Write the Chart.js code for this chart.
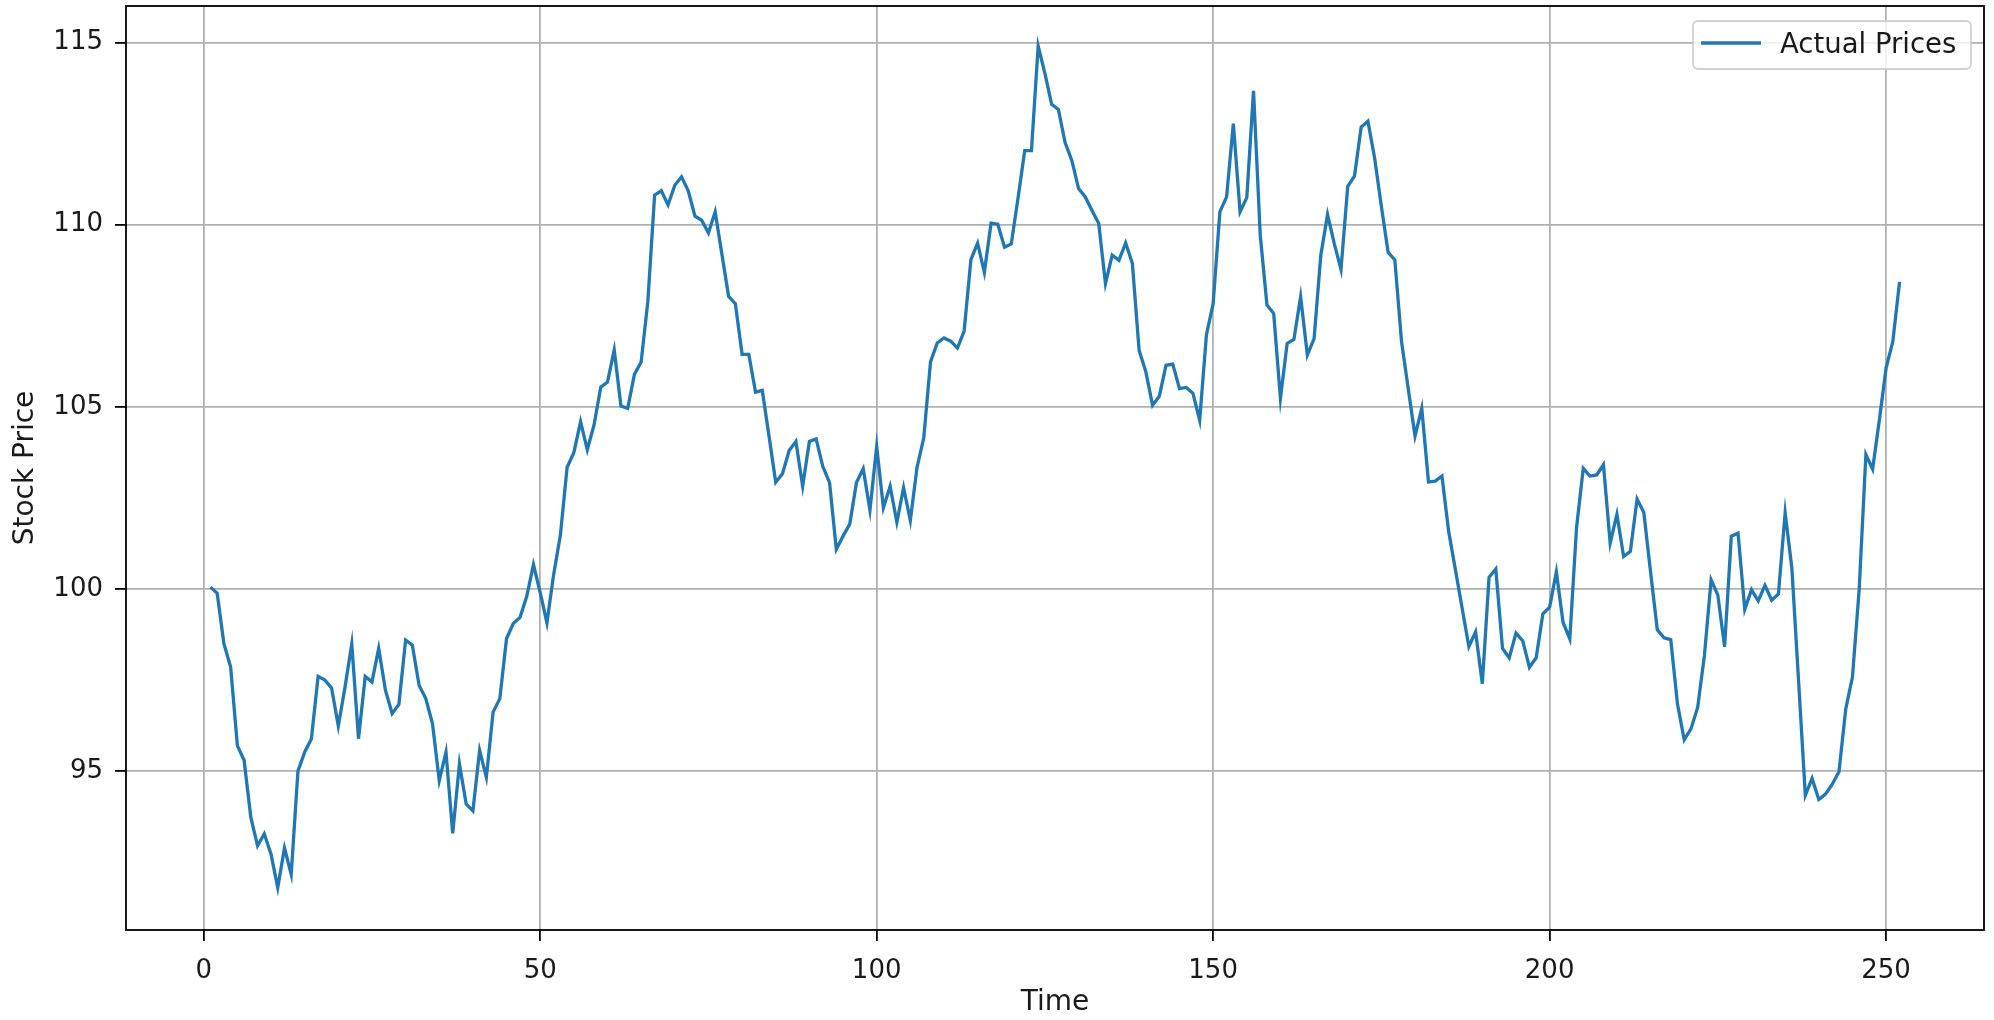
<!DOCTYPE html>
<html>
<head>
<meta charset="utf-8">
<script src="https://cdn.jsdelivr.net/npm/chart.js@4.4.0/dist/chart.umd.min.js"></script>
<style>
  html, body { margin: 0; padding: 0; background: #fff; }
  #wrap { width: 1994px; height: 1020px; }
</style>
</head>
<body>
<div id="wrap"><canvas id="chart" width="1994" height="1020"></canvas></div>
<script>
// prices, one per time step (1..252)
const actualPrices = [
  100.05, 99.88, 98.5, 97.86, 95.7, 95.3, 93.73, 92.95, 93.28, 92.72,
  91.8, 92.89, 92.17, 95.0, 95.52, 95.89, 97.6, 97.5, 97.28, 96.24,
  97.31, 98.49, 95.89, 97.6, 97.45, 98.37, 97.22, 96.58, 96.83, 98.6,
  98.46, 97.36, 96.99, 96.3, 94.74, 95.52, 93.29, 95.2, 94.1, 93.91,
  95.57, 94.83, 96.62, 96.99, 98.64, 99.05, 99.22, 99.8, 100.67, 99.9,
  99.07, 100.4, 101.48, 103.34, 103.74, 104.59, 103.82, 104.5, 105.54, 105.68,
  106.56, 105.02, 104.96, 105.89, 106.23, 107.9, 110.81, 110.93, 110.54, 111.08,
  111.31, 110.93, 110.23, 110.12, 109.77, 110.35, 109.19, 108.03, 107.83, 106.44,
  106.44, 105.4, 105.45, 104.2, 102.93, 103.16, 103.8, 104.05, 102.82, 104.05,
  104.12, 103.36, 102.92, 101.09, 101.45, 101.78, 102.92, 103.3, 102.16, 103.91,
  102.23, 102.82, 101.83, 102.78, 101.88, 103.34, 104.15, 106.23, 106.75, 106.89,
  106.8, 106.61, 107.08, 109.04, 109.49, 108.69, 110.04, 110.01, 109.38, 109.47,
  110.72, 112.03, 112.03, 114.9, 114.15, 113.3, 113.16, 112.25, 111.76, 110.99,
  110.76, 110.39, 110.03, 108.38, 109.16, 109.02, 109.5, 108.93, 106.55, 105.96,
  105.04, 105.29, 106.14, 106.17, 105.5, 105.53, 105.37, 104.63, 106.97, 107.83,
  110.35, 110.76, 112.77, 110.35, 110.74, 113.67, 109.71, 107.79, 107.56, 105.23,
  106.74, 106.85, 108.02, 106.42, 106.87, 109.16, 110.28, 109.48, 108.77, 111.05,
  111.33, 112.68, 112.84, 111.82, 110.5, 109.24, 109.03, 106.78, 105.49, 104.2,
  104.96, 102.94, 102.96, 103.1, 101.58, 100.53, 99.47, 98.42, 98.82, 97.4,
  100.32, 100.55, 98.37, 98.11, 98.79, 98.58, 97.85, 98.11, 99.32, 99.5,
  100.47, 99.08, 98.63, 101.68, 103.31, 103.1, 103.13, 103.41, 101.26, 102.05,
  100.89, 101.03, 102.47, 102.1, 100.47, 98.88, 98.66, 98.61, 96.84, 95.86,
  96.16, 96.75, 98.17, 100.25, 99.83, 98.41, 101.45, 101.53, 99.44, 99.98,
  99.67, 100.1, 99.69, 99.86, 102.09, 100.57, 97.46, 94.34, 94.8, 94.22,
  94.37, 94.64, 94.98, 96.7, 97.58, 99.98, 103.69, 103.29, 104.64, 106.06,
  106.79, 108.43
]
const timeSteps = actualPrices.map((p, i) => i + 1)
const xTickValues = [0, 50, 100, 150, 200, 250]
const yTickValues = [95, 100, 105, 110, 115]
const seriesName = 'Actual Prices'

const FONT = 'DejaVu Sans'
const textColor = '#1a1a1a'
const gridColor = '#b0b0b0'

// black frame round the plot area
const framePlugin = {
  id: 'frame',
  afterDraw(chart) {
    const a = chart.chartArea
    const ctx = chart.ctx
    ctx.save()
    ctx.strokeStyle = '#000'
    ctx.lineWidth = 1.8
    ctx.strokeRect(a.left, a.top, a.right - a.left, a.bottom - a.top)
    ctx.restore()
  }
}

// legend box in the upper right corner, matplotlib style
const legendPlugin = {
  id: 'boxLegend',
  afterDraw(chart) {
    const ctx = chart.ctx
    const ds = chart.data.datasets[0]
    const a = chart.chartArea
    const w = 278, h = 48
    const x = a.right - 13 - w, y = a.top + 15
    ctx.save()
    ctx.fillStyle = 'rgba(255,255,255,0.8)'
    ctx.strokeStyle = 'rgba(204,204,204,0.9)'
    ctx.lineWidth = 1.8
    ctx.beginPath()
    ctx.roundRect(x, y, w, h, 5)
    ctx.fill()
    ctx.stroke()
    ctx.strokeStyle = ds.borderColor
    ctx.lineWidth = ds.borderWidth
    ctx.beginPath()
    ctx.moveTo(x + 8, y + h / 2 - 2)
    ctx.lineTo(x + 68, y + h / 2 - 2)
    ctx.stroke()
    ctx.fillStyle = textColor
    ctx.font = '27.5px "' + FONT + '"'
    ctx.textBaseline = 'middle'
    ctx.fillText(ds.label, x + 87, y + h / 2 + 1)
    ctx.restore()
  }
}

const points = timeSteps.map((t, i) => ({ x: t, y: actualPrices[i] }))

const config = {
  type: 'line',
  data: {
    datasets: [{
      label: seriesName,
      data: points,
      borderColor: '#1f77b4',
      borderWidth: 3.3,
      pointRadius: 0,
      tension: 0,
      fill: false
    }]
  },
  options: {
    responsive: false,
    animation: false,
    devicePixelRatio: 1,
    layout: { padding: { left: 0, right: 10, top: 6, bottom: 0 } },
    plugins: {
      legend: { display: false },
      tooltip: { enabled: false }
    },
    scales: {
      x: {
        type: 'linear',
        min: -11.55,
        max: 264.55,
        afterBuildTicks: s => { s.ticks = xTickValues.map(v => ({ value: v })) },
        afterFit: s => { s.height = 90; s.paddingLeft = 0; s.paddingRight = 0 },
        border: { display: false },
        grid: { color: gridColor, lineWidth: 1.8, tickLength: 11, tickColor: '#000', tickWidth: 1.8 },
        ticks: { color: textColor, font: { family: FONT, size: 26 }, padding: 15, maxRotation: 0, callback: v => v },
        title: { display: true, text: 'Time', color: textColor, font: { family: FONT, size: 28 }, padding: { top: 0, bottom: 0 } }
      },
      y: {
        min: 90.64,
        max: 116.0,
        afterBuildTicks: s => { s.ticks = yTickValues.map(v => ({ value: v })) },
        afterFit: s => { s.width = 126; s.paddingTop = 0; s.paddingBottom = 0 },
        border: { display: false },
        grid: { color: gridColor, lineWidth: 1.8, tickLength: 11, tickColor: '#000', tickWidth: 1.8 },
        ticks: { color: textColor, font: { family: FONT, size: 26 }, padding: 12, callback: v => v },
        title: { display: true, text: 'Stock Price', color: textColor, font: { family: FONT, size: 28 }, padding: { top: 8.5, bottom: 0 } }
      }
    }
  },
  plugins: [framePlugin, legendPlugin]
}

new Chart(document.getElementById('chart'), config)
</script>
</body>
</html>
